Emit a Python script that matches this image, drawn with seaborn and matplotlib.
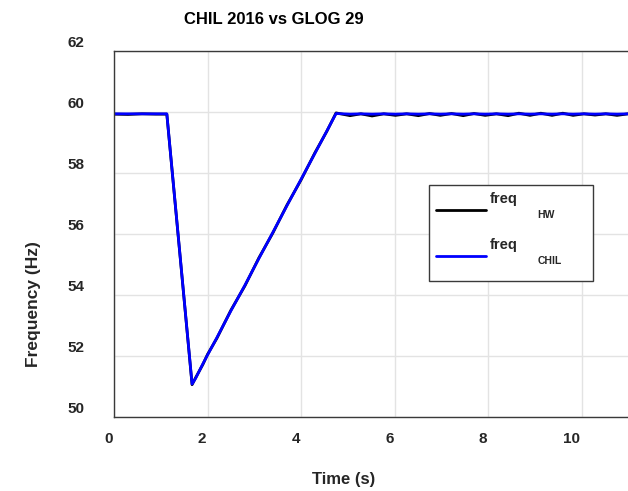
import numpy as np
import pandas as pd
import seaborn as sns
import matplotlib.pyplot as plt
from matplotlib.lines import Line2D
from matplotlib.transforms import ScaledTranslation

# Sample times (s) shared by both traces
time_s = [0.00, 0.30, 0.60, 0.90, 1.13, 1.67, 1.75, 1.90, 2.00, 2.20, 2.50, 2.80,
          3.10, 3.40, 3.70, 4.00, 4.30, 4.55, 4.75,
          5.05, 5.28, 5.52, 5.77, 6.02, 6.26, 6.51, 6.75, 6.98, 7.22, 7.47, 7.70,
          7.94, 8.18, 8.43, 8.66, 8.90, 9.13, 9.37, 9.60, 9.82, 10.05, 10.29,
          10.52, 10.76, 11.00, 11.30]

# Hardware measurement (Hz)
freq_hw = [59.93, 59.92, 59.94, 59.93, 59.93, 51.06, 51.30, 51.72, 52.05, 52.58,
           53.50, 54.30, 55.22, 56.04, 56.95, 57.77, 58.67, 59.36, 59.97,
           59.88, 59.94, 59.87, 59.94, 59.89, 59.94, 59.88, 59.95, 59.89, 59.95,
           59.88, 59.95, 59.89, 59.94, 59.88, 59.96, 59.89, 59.96, 59.89, 59.96,
           59.89, 59.94, 59.90, 59.94, 59.89, 59.94, 59.90]

# Controller-hardware-in-the-loop simulation (Hz)
freq_chil = [59.94, 59.94, 59.94, 59.94, 59.94, 51.08, 51.28, 51.74, 52.03, 52.60,
             53.48, 54.32, 55.20, 56.06, 56.93, 57.79, 58.65, 59.37, 59.95,
             59.93, 59.94, 59.93, 59.94, 59.93, 59.94, 59.93, 59.94, 59.93, 59.94,
             59.93, 59.94, 59.93, 59.94, 59.93, 59.94, 59.93, 59.94, 59.93, 59.94,
             59.93, 59.94, 59.93, 59.94, 59.93, 59.94, 59.93]

series_names = ["HW", "CHIL"]
series_colors = ["black", "blue"]
x_ticks = [0, 2, 4, 6, 8, 10]
y_ticks = [50, 52, 54, 56, 58, 60, 62]

df = pd.DataFrame({
    "time": time_s * 2,
    "freq": freq_hw + freq_chil,
    "source": ["HW"] * len(time_s) + ["CHIL"] * len(time_s),
})

sns.set_theme(style="whitegrid")
plt.rcParams["font.family"] = ["Liberation Sans", "DejaVu Sans"]
plt.rcParams["font.weight"] = "bold"

W, H = 628, 491
fig = plt.figure(figsize=(W / 100, H / 100), dpi=100)
px_per_s = 46.75
ax_w_px = px_per_s * 11.5
ax = fig.add_axes([114 / W, 1 - 417 / H, ax_w_px / W, 366 / H])

sns.lineplot(data=df, x="time", y="freq", hue="source", hue_order=series_names,
             palette=dict(zip(series_names, series_colors)), linewidth=2,
             legend=False, ax=ax, estimator=None, sort=False)

ax.set_xlim(0, 11.5)
ax.set_ylim(50, 62)
ax.set_xticks(x_ticks)
ax.set_yticks(y_ticks)
ax.set_xticklabels([str(v) for v in x_ticks], fontweight="bold", ha="right")
ax.set_yticklabels([str(v) for v in y_ticks], fontweight="bold")
ax.grid(True, color="#e3e3e3", linewidth=1)
for s in ax.spines.values():
    s.set_color("#3a3a3a")
    s.set_linewidth(1.0)
ax.tick_params(axis="both", direction="in", length=3, width=0.8, color="#3a3a3a",
               labelsize=11, labelcolor="#262626")
ax.tick_params(axis="x", pad=10.5)
ax.tick_params(axis="y", pad=21)
for lab in ax.get_xticklabels():
    lab.set_transform(lab.get_transform() + ScaledTranslation(-0.01, 0, fig.dpi_scale_trans))
for lab in ax.get_yticklabels():
    lab.set_transform(lab.get_transform() + ScaledTranslation(0, 0.09, fig.dpi_scale_trans))

ax.set_xlabel("Time (s)", fontsize=12, fontweight="bold", color="#262626")
ax.set_ylabel("Frequency (Hz)", fontsize=12.5, fontweight="bold", color="#262626")
ax.xaxis.set_label_coords((344 - 114) / ax_w_px, (417 - 472) / 366)
ax.yaxis.set_label_coords((41 - 114) / ax_w_px, (417 - 304) / 366)

ax.set_title("CHIL 2016 vs GLOG 29", fontsize=12, fontweight="bold", color="black",
             x=(274 - 114) / ax_w_px, y=(417 - 24) / 366, pad=0)

handles = [Line2D([], [], color=c, linewidth=2) for c in series_colors]
leg = ax.legend(handles, ["freq\n", "freq\n"], loc="upper left",
                bbox_to_anchor=(429 / W, 1 - 185 / H, 164 / W, 0.001),
                bbox_transform=fig.transFigure, mode="expand", borderaxespad=0,
                fancybox=False, framealpha=1, edgecolor="#3a3a3a",
                prop={"weight": "bold", "size": 10.5}, handlelength=3.4,
                handletextpad=0.3, labelspacing=0.72, borderpad=0.5)
leg.get_frame().set_linewidth(1.0)
for t in leg.get_texts():
    t.set_linespacing(1.7)

for name, ypx, xpx in [("HW", 215, 546), ("CHIL", 261, 550)]:
    fig.text(xpx / W, 1 - ypx / H, name, fontsize=7.5, fontweight="bold",
             ha="center", va="center", color="#262626")

fig.savefig("out.png", dpi=100)
